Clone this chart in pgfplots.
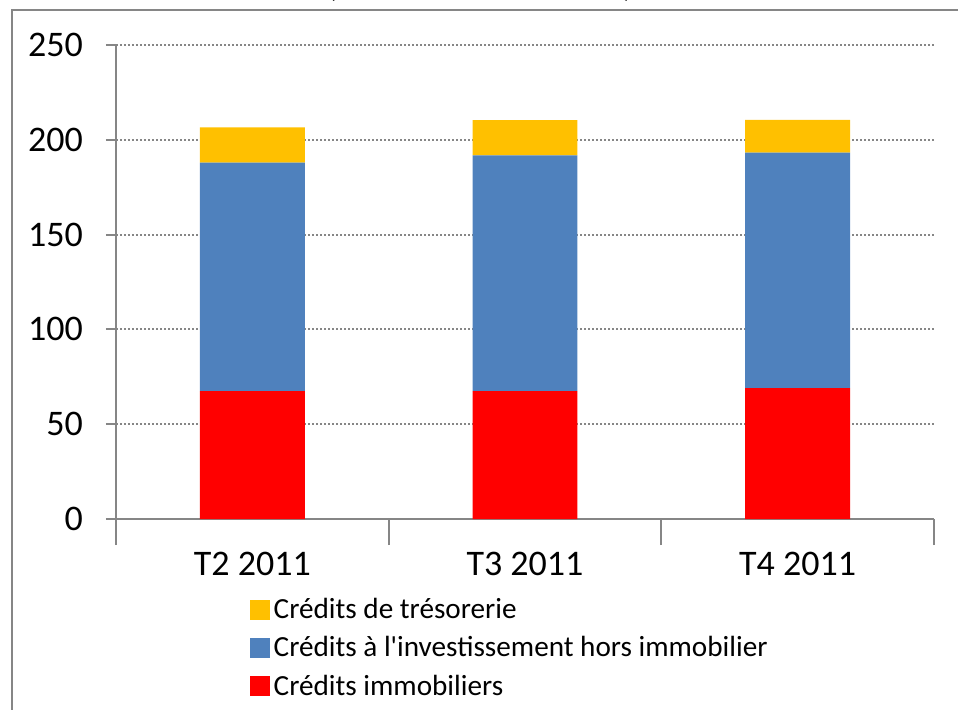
\documentclass[border=0pt]{standalone}
\usepackage{pgfplots}
\pgfplotsset{compat=1.18}
\usepackage{fontspec}
\setmainfont{Carlito}[Ligatures=TeXOff]
\definecolor{cyel}{HTML}{FFC000}
\definecolor{cblu}{HTML}{4F81BD}
\definecolor{cred}{HTML}{FF0000}
\definecolor{cgrid}{HTML}{868686}
\begin{document}
\begin{tikzpicture}
\useasboundingbox (0,0) rectangle (479pt,354.5pt);
\clip (0,0) rectangle (479pt,354.5pt);
% outer chart frame
\draw[cgrid,line width=1.2pt] (6pt,-2pt) -- (6pt,349.5pt) -- (490pt,349.5pt);
\node[anchor=base,font=\fontsize{18}{20}\selectfont,inner sep=0] at (240pt,356pt) {(en milliards d'euros)};
\begin{axis}[
  at={(58pt,95pt)}, anchor=south west,
  scale only axis, width=409pt, height=237pt,
  ybar stacked, bar width=0.385,
  xmin=-0.5, xmax=2.5, ymin=0, ymax=250,
  ytick={0,50,...,250},
  xtick={-0.5,0.5,1.5,2.5},
  x tick label as interval=true,
  xticklabels={T2 2011,T3 2011,T4 2011},
  axis x line*=bottom, axis y line*=left,
  axis line style={cgrid,line width=1pt,-},
  every tick/.style={cgrid,line width=1pt},
  ytick style={cgrid,line width=1pt},
  y tick label style={xshift=-8pt},
  x tick label style={yshift=-8pt},
  major tick length=5pt,
  xtick style={cgrid,line width=1pt,/pgfplots/major tick length=13pt},
  tick align=outside,
  ymajorgrids,
  major grid style={cgrid,line width=1pt,dash pattern=on 1pt off 1pt},
  tick label style={font=\fontsize{18}{20}\selectfont},
  /pgf/number format/assume math mode=true,
  reverse legend,
  legend style={at={(0.163,-0.158)}, anchor=north west, draw=none, fill=none,
    font=\fontsize{14.6}{17}\selectfont, row sep=3.5pt, inner sep=0pt,
    /tikz/every even column/.append style={column sep=0pt}},
  legend cell align=left,
  legend image code/.code={\path[#1,draw=none] (0pt,-5pt) rectangle (10pt,5pt);},
]
\addplot+[fill=cred,draw=none] coordinates {(0,67.5) (1,67.5) (2,69)};
\addplot+[fill=cblu,draw=none] coordinates {(0,120.5) (1,124.3) (2,124.3)};
\addplot+[fill=cyel,draw=none] coordinates {(0,18.6) (1,18.6) (2,17.2)};
\legend{Crédits immobiliers,Crédits à l'investissement hors immobilier,Crédits de trésorerie}
\end{axis}
\end{tikzpicture}
\end{document}
